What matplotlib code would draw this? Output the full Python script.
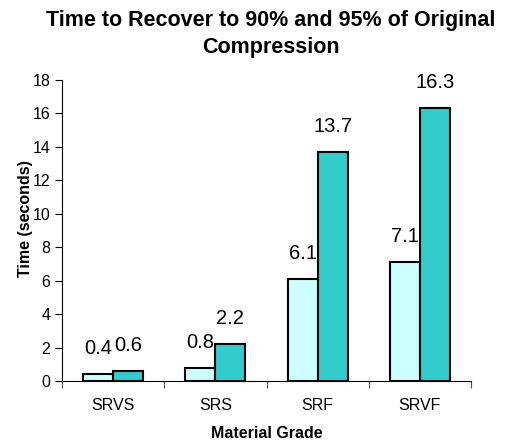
import matplotlib
matplotlib.use('Agg')
import matplotlib.pyplot as plt
import numpy as np

plt.rcParams['font.family'] = ['Liberation Sans', 'DejaVu Sans']

# datos
grados = ['SRVS', 'SRS', 'SRF', 'SRVF']
t90 = [0.4, 0.8, 6.1, 7.1]
t95 = [0.6, 2.2, 13.7, 16.3]

fig = plt.figure(figsize=(5.16, 4.41), dpi=100)
ax = fig.add_axes([62/516, 1-381/441, (471-62)/516, (381-80)/441])

x = np.arange(len(grados))
ancho = 0.294
b1 = ax.bar(x - ancho/2, t90, ancho, color='#CCFFFF', edgecolor='black', linewidth=1.5)
b2 = ax.bar(x + ancho/2, t95, ancho, color='#33CCCC', edgecolor='black', linewidth=1.5)

# etiquetas de valores
for barras in (b1, b2):
    for b in barras:
        ax.annotate(f'{b.get_height():.1f}', (b.get_x() + b.get_width()/2, b.get_height()),
                    xytext=(0, 11.5), textcoords='offset points', ha='center', va='bottom',
                    fontsize=14.5)

ax.set_xlim(-0.5, 3.5)
ax.set_ylim(0, 18)
ax.set_yticks(range(0, 19, 2))
ax.tick_params(axis='y', labelsize=11.5, length=5, width=0.8)
ax.set_xticks(np.arange(-0.5, 4, 1))
ax.set_xticklabels([])
ax.set_xticks(x, minor=True)
ax.set_xticklabels(grados, minor=True)
ax.tick_params(axis='x', which='major', length=5, width=0.8, color='#555555')
ax.tick_params(axis='x', which='minor', length=0, labelsize=11.5, pad=12)
ax.spines['top'].set_visible(False)
ax.spines['right'].set_visible(False)

ax.set_xlabel('Material Grade', fontsize=11.5, fontweight='bold')
ax.set_ylabel('Time (seconds)', fontsize=11.5, fontweight='bold')
ax.xaxis.set_label_coords(0.501, -0.148)
ax.yaxis.set_label_coords(-0.071, 0.538)

fig.text(271/516, 1-10/441, 'Time to Recover to 90% and 95% of Original\nCompression',
         ha='center', va='top', fontsize=15.5, fontweight='bold', linespacing=1.38)

plt.savefig('out.png', dpi=100)
